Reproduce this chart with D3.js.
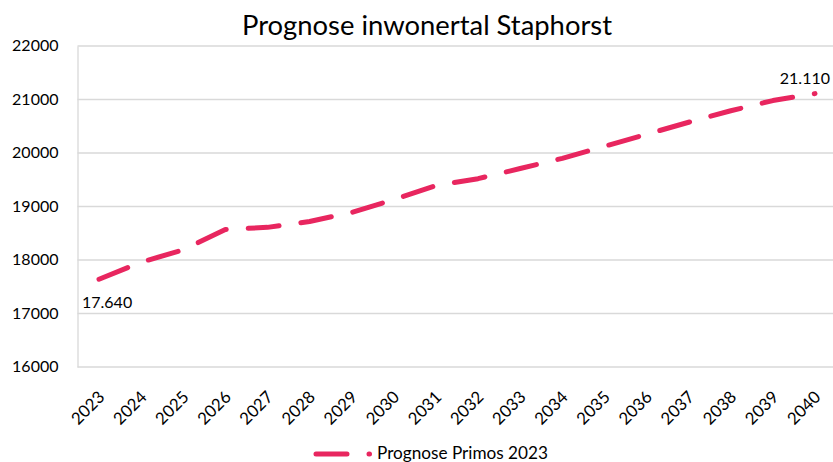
<!DOCTYPE html>
<html><head><meta charset="utf-8">
<script src="https://cdn.jsdelivr.net/npm/d3@7"></script>
<style>
html,body{margin:0;padding:0;background:#fff;}
svg{display:block;font-family:Lato, "Open Sans", sans-serif;}
</style></head>
<body>
<svg id="chart" width="833" height="462"></svg>
<script>
const years = ["2023","2024","2025","2026","2027","2028","2029","2030","2031","2032","2033","2034","2035","2036","2037","2038","2039","2040"];
const prognose = [17640,17960,18190,18570,18610,18720,18890,19130,19390,19520,19710,19900,20125,20350,20575,20790,20980,21110];
const yTicks = [16000,17000,18000,19000,20000,21000,22000];
const seriesName = "Prognose Primos 2023";
const title = "Prognose inwonertal Staphorst";
const labelled = {"2023":"17.640","2040":"21.110"};

const color = "#e8265f";
const svg = d3.select("#chart");
const plot = {left:77.5, right:836, top:46, bottom:367};

const x = d3.scalePoint().domain(years).range([99, 815]);
const y = d3.scaleLinear().domain([16000,22000]).range([plot.bottom, plot.top]);

function fit(sel, w){
  const n = sel.node();
  const cur = parseFloat(sel.attr("font-size"));
  const len = n.getComputedTextLength();
  sel.attr("font-size", (cur*w/len).toFixed(2));
}

// gridlines
svg.append("g").selectAll("line").data(yTicks.slice(1)).join("line")
  .attr("x1", plot.left).attr("x2", plot.right)
  .attr("y1", d=>y(d)).attr("y2", d=>y(d))
  .attr("stroke","#d9d9d9").attr("stroke-width",1.3);

// y axis
const yAxis = svg.append("g").attr("transform",`translate(${plot.left},0)`)
  .call(d3.axisLeft(y).tickValues(yTicks).tickSize(0).tickPadding(19).tickFormat(d3.format("d")));
yAxis.select(".domain").attr("stroke","#d9d9d9").attr("stroke-width",1.3);
yAxis.selectAll("text").attr("font-family","Lato").attr("font-size",16).attr("fill","#000").attr("dy","0.3em");

// x axis
const xAxis = svg.append("g").attr("transform",`translate(0,${plot.bottom})`)
  .call(d3.axisBottom(x).tickSize(0).tickPadding(0));
xAxis.select(".domain").attr("d",`M${plot.left},0H${plot.right}`).attr("stroke","#d9d9d9").attr("stroke-width",1.3);
xAxis.selectAll("text").attr("font-family","Lato").attr("font-size",16.8).attr("fill","#000")
  .attr("text-anchor","end").attr("dy","0.35em")
  .attr("transform","translate(2,27) rotate(-45)");

// line
const line = d3.line().x((d,i)=>x(years[i])).y(d=>y(d));
svg.append("path").datum(prognose)
  .attr("d", line).attr("fill","none").attr("stroke",color)
  .attr("stroke-width",5).attr("stroke-linecap","round").attr("stroke-linejoin","round")
  .attr("stroke-dasharray","31 22");

// data labels
years.forEach((yr,i)=>{
  if(!labelled[yr]) return;
  const first = i===0;
  svg.append("text")
    .attr("x", first ? x(yr)-17 : x(yr)+15)
    .attr("y", first ? y(prognose[i])+29 : y(prognose[i])-10)
    .attr("text-anchor", first ? "start" : "end")
    .attr("font-size",16).attr("fill","#000")
    .text(labelled[yr]);
});

// title
const t = svg.append("text").attr("x",427).attr("y",35).attr("text-anchor","middle")
  .attr("font-size",25).attr("fill","#000").text(title);
fit(t, 370);

// legend
svg.append("line").attr("x1",316).attr("x2",369.5).attr("y1",454).attr("y2",454)
  .attr("stroke",color).attr("stroke-width",5).attr("stroke-linecap","round")
  .attr("stroke-dasharray","31 22");
const lt = svg.append("text").attr("x",377).attr("y",459).attr("font-size",16)
  .attr("fill","#000").text(seriesName);
fit(lt, 171);
</script>
</body></html>
